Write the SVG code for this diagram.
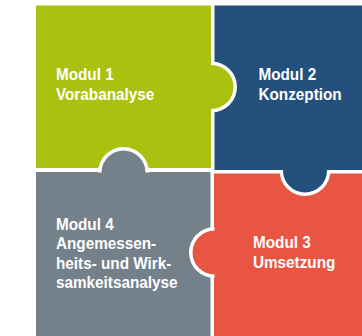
<svg xmlns="http://www.w3.org/2000/svg" width="362" height="336" viewBox="0 0 362 336">
<style>
.t{font-family:"Liberation Sans",Arial,sans-serif;font-weight:bold;font-size:17px;fill:#fff}
.g{fill:#A9C20F}.b{fill:#23507C}.y{fill:#74808A}.r{fill:#E85643}.w{fill:#fff}
</style>
<rect width="362" height="336" fill="#fff"/>
<g id="modul1"><rect class="g" x="36" y="5.5" width="175" height="162.5"/></g>
<g id="modul2"><rect class="b" x="214.5" y="5.5" width="147.5" height="164.5"/></g>
<g id="modul4"><rect class="y" x="36" y="172" width="174.5" height="164"/></g>
<g id="modul3"><rect class="r" x="214" y="173.5" width="148" height="162.5"/></g>
<g id="tabs">
<path class="w" d="M211.5,61.5 A25.5,25.5 0 0 1 211.5,112.5 Z"/>
<circle class="g" cx="211.5" cy="87" r="22"/>
<path class="w" d="M98,172.5 A25.5,25.5 0 0 1 149,172.5 Z"/>
<circle class="y" cx="123.5" cy="172.5" r="22"/>
<path class="w" d="M330.5,170.5 A25.5,25.5 0 0 1 279.5,170.5 Z"/>
<circle class="b" cx="305" cy="170.5" r="22"/>
<path class="w" d="M214.5,227 A25.5,25.5 0 0 0 214.5,278 Z"/>
<circle class="r" cx="214.5" cy="252.5" r="22"/>
</g>
<g id="labels" transform="scale(0.9,1)">
<text class="t" x="62.2" y="80">Modul 1</text>
<text class="t" x="62.2" y="100">Vorabanalyse</text>
<text class="t" x="287.2" y="80">Modul 2</text>
<text class="t" x="287.2" y="100">Konzeption</text>
<text class="t" x="281.1" y="248">Modul 3</text>
<text class="t" x="281.1" y="268">Umsetzung</text>
<text class="t" x="62.2" y="230">Modul 4</text>
<text class="t" x="62.2" y="249.5">Angemessen-</text>
<text class="t" x="62.2" y="269">heits- und Wirk-</text>
<text class="t" x="62.2" y="288.5">samkeitsanalyse</text>
</g>
</svg>
